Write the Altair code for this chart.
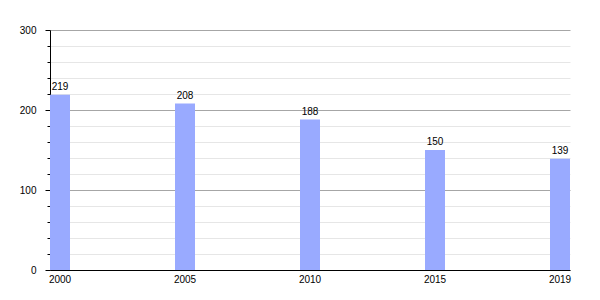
import altair as alt
import pandas as pd

years = ["2000", "2005", "2010", "2015", "2019"]
values = [219, 208, 188, 150, 139]
y_ticks = list(range(0, 301, 20))

df = pd.DataFrame({"year": years, "value": values})

FONT = "Liberation Sans"

x = alt.X(
    "year:N",
    sort=years,
    scale=alt.Scale(paddingInner=0.84, paddingOuter=0),
    axis=alt.Axis(
        title=None, labelAngle=0, ticks=False, tickSize=0, labelPadding=4,
        domainColor="black", labelFont=FONT, labelFontSize=10, labelColor="black",
        grid=False,
    ),
)
y = alt.Y(
    "value:Q",
    scale=alt.Scale(domain=[0, 300], nice=False),
    axis=alt.Axis(
        title=None,
        values=y_ticks,
        labelExpr="datum.value % 100 === 0 ? datum.label : ''",
        tickSize={"condition": {"test": "datum.value % 100 === 0", "value": 5}, "value": 3},
        tickColor="black",
        domainColor="black",
        labelPadding=9,
        labelFont=FONT, labelFontSize=10, labelColor="black",
        grid=True,
        gridColor={"condition": {"test": "datum.value % 100 === 0", "value": "#a6a6a6"}, "value": "#e6e6e6"},
        gridWidth=1,
    ),
)

base = alt.Chart(df).encode(x=x, y=y)
bars = base.mark_bar(color="#99aaff")
labels = base.mark_text(
    baseline="bottom", dy=-3, font=FONT, fontSize=10, color="black"
).encode(text="value:Q")

chart = alt.layer(bars, labels).properties(
    width=520, height=240,
    autosize="none",
    background="white",
    padding={"left": 50, "top": 30, "right": 30, "bottom": 30},
).configure_view(stroke=None)

chart.save("out.html", embed_options={"renderer": "svg", "actions": False})
